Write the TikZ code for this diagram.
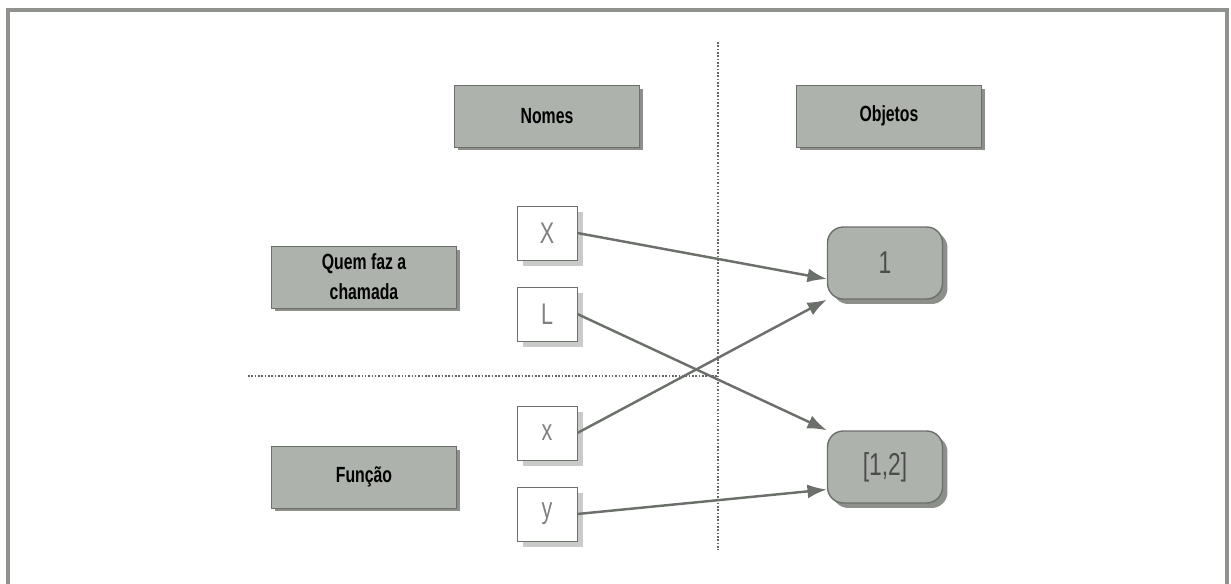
\documentclass[tikz,border=0pt]{standalone}
\usepackage{fontspec}
\newfontfamily\narrowfont[FakeStretch=0.72]{Liberation Sans}
\usepackage{tikz}
\usetikzlibrary{arrows.meta,shadows,positioning}

\definecolor{boxgray}{HTML}{AEB2AD}
\definecolor{edgegray}{HTML}{6C706B}
\definecolor{shadegray}{HTML}{8C8F8A}
\definecolor{lightshade}{HTML}{C9CBC8}
\definecolor{framegray}{HTML}{8E918C}

\begin{document}
\begin{tikzpicture}
[
	x=0.02cm, y=-0.02cm,
	header/.style = {rectangle, draw=edgegray, fill=boxgray, minimum width=3.7cm, minimum height=1.24cm,
		font=\narrowfont\bfseries\fontsize{12.5}{17}\selectfont, align=center,
		drop shadow={shadow xshift=0.07cm, shadow yshift=-0.07cm, fill=shadegray, opacity=1}},
	varname/.style = {rectangle, draw=edgegray, fill=white, minimum width=1.2cm, minimum height=1.08cm,
		font=\narrowfont\fontsize{17}{18}\selectfont, text=gray,
		drop shadow={shadow xshift=0.12cm, shadow yshift=-0.12cm, fill=lightshade, opacity=1}},
	object/.style = {rectangle, draw=edgegray, thick, fill=boxgray, rounded corners=9pt,
		minimum width=2.3cm, minimum height=1.44cm,
		font=\narrowfont\fontsize{18}{19}\selectfont, text=black!70,
		drop shadow={shadow xshift=0.1cm, shadow yshift=-0.1cm, fill=shadegray, opacity=1}},
	arrow/.style = {-{Latex[length=11pt,width=8pt]}, draw=edgegray, line width=1.4pt},
	divider/.style = {densely dotted, draw=black!60, line width=0.9pt}
]

\useasboundingbox (0,0) rectangle (1231,584);

% frame
\draw[framegray, line width=2pt] (8,584) -- (8,10) -- (1227,10) -- (1227,584);

% dividers
\draw[divider] (718,42) -- (718,550);
\draw[divider] (248,376) -- (718,376);

% headers
\node[header] (names) at (547,116) {Nomes};
\node[header] (objects) at (889,116) {Objetos};
\node[header] (caller) at (364,277) {Quem faz a\\chamada};
\node[header] (function) at (364,477) {Função};

% names
\node[varname] (bigx) at (547,233) {X};
\node[varname] (bigl) at (547,314) {L};
\node[varname] (smallx) at (547,433) {x};
\node[varname] (smally) at (547,514) {y};

% objects
\node[object] (one) at (885,263) {1};
\node[object] (list) at (885,467) {[1,2]};

\draw[arrow] (bigx.east) -- ([yshift=-0.32cm] one.west);
\draw[arrow] (bigl.east) -- (list.north west);
\draw[arrow] (smallx.east) -- (one.south west);
\draw[arrow] (smally.east) -- ([yshift=-0.45cm] list.west);

\end{tikzpicture}
\end{document}
